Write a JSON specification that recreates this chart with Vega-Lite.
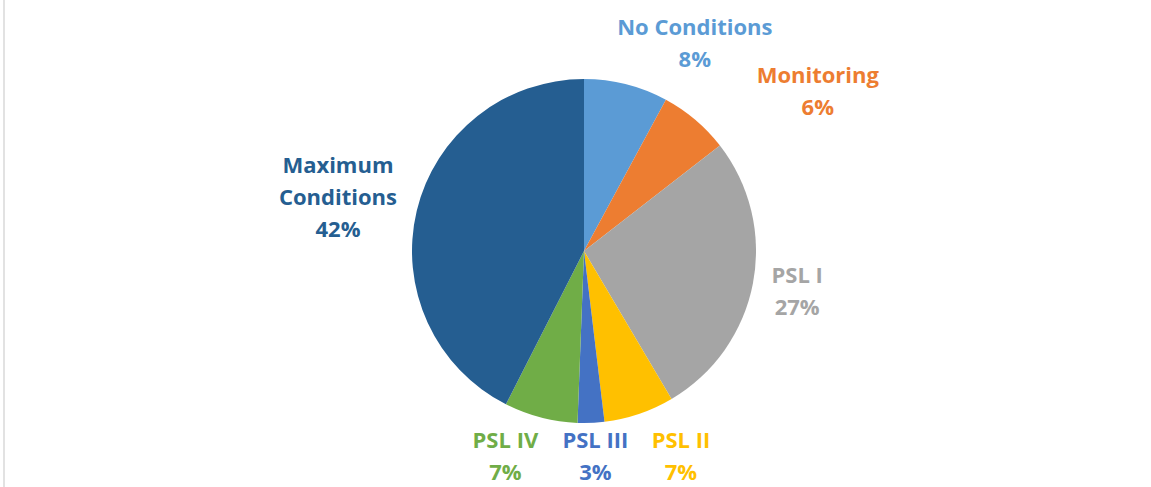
{
  "$schema": "https://vega.github.io/schema/vega-lite/v6.json",
  "width": 1160,
  "height": 506,
  "autosize": {"type": "none"},
  "padding": {"left": 4, "right": -13, "top": -2, "bottom": -17},
  "background": "white",
  "view": {"stroke": "#d9d9d9", "strokeWidth": 1.5},
  "config": {"view": {"stroke": "#d9d9d9", "strokeWidth": 1.5}},
  "data": {
    "values": [
      {"order": 1, "category": "No Conditions", "share": 7.9, "label": "No Conditions\n8%"},
      {"order": 2, "category": "Monitoring", "share": 6.6, "label": "Monitoring\n6%"},
      {"order": 3, "category": "PSL I", "share": 27.0, "label": "PSL I\n27%"},
      {"order": 4, "category": "PSL II", "share": 6.6, "label": "PSL II\n7%"},
      {"order": 5, "category": "PSL III", "share": 2.5, "label": "PSL III\n3%"},
      {"order": 6, "category": "PSL IV", "share": 6.9, "label": "PSL IV\n7%"},
      {"order": 7, "category": "Maximum Conditions", "share": 42.5, "label": "Maximum\nConditions\n42%"}
    ]
  },
  "encoding": {
    "theta": {"field": "share", "type": "quantitative", "stack": true},
    "order": {"field": "order", "type": "quantitative"},
    "color": {
      "field": "category",
      "type": "nominal",
      "scale": {
        "domain": ["No Conditions", "Monitoring", "PSL I", "PSL II", "PSL III", "PSL IV", "Maximum Conditions"],
        "range": ["#5B9BD5", "#ED7D31", "#A5A5A5", "#FFC000", "#4472C4", "#70AD47", "#255E91"]
      },
      "legend": null
    }
  },
  "layer": [
    {"mark": {"type": "arc", "radius": 172}},
    {
      "mark": {"type": "text", "radius": 215, "dx": 58, "dy": -15, "font": "Open Sans", "fontSize": 22, "fontWeight": "bold", "lineHeight": 32, "lineBreak": "\n", "align": "center", "baseline": "middle"},
      "encoding": {"text": {"condition": {"test": "datum.category === 'No Conditions'", "field": "label", "type": "nominal"}, "value": ""}}
    },
    {
      "mark": {"type": "text", "radius": 230, "dx": 85, "dy": 0, "font": "Open Sans", "fontSize": 22, "fontWeight": "bold", "lineHeight": 32, "lineBreak": "\n", "align": "center", "baseline": "middle"},
      "encoding": {"text": {"condition": {"test": "datum.category === 'Monitoring'", "field": "label", "type": "nominal"}, "value": ""}}
    },
    {
      "mark": {"type": "text", "radius": 217, "dy": -16, "font": "Open Sans", "fontSize": 22, "fontWeight": "bold", "lineHeight": 32, "lineBreak": "\n", "align": "center", "baseline": "middle"},
      "encoding": {"text": {"condition": {"test": "datum.category === 'PSL I'", "field": "label", "type": "nominal"}, "value": ""}}
    },
    {
      "mark": {"type": "text", "radius": 218, "dx": 27, "dy": -16, "font": "Open Sans", "fontSize": 22, "fontWeight": "bold", "lineHeight": 32, "lineBreak": "\n", "align": "center", "baseline": "middle"},
      "encoding": {"text": {"condition": {"test": "datum.category === 'PSL II'", "field": "label", "type": "nominal"}, "value": ""}}
    },
    {
      "mark": {"type": "text", "radius": 206, "dx": 3, "dy": -16, "font": "Open Sans", "fontSize": 22, "fontWeight": "bold", "lineHeight": 32, "lineBreak": "\n", "align": "center", "baseline": "middle"},
      "encoding": {"text": {"condition": {"test": "datum.category === 'PSL III'", "field": "label", "type": "nominal"}, "value": ""}}
    },
    {
      "mark": {"type": "text", "radius": 213, "dx": -25, "dy": -16, "font": "Open Sans", "fontSize": 22, "fontWeight": "bold", "lineHeight": 32, "lineBreak": "\n", "align": "center", "baseline": "middle"},
      "encoding": {"text": {"condition": {"test": "datum.category === 'PSL IV'", "field": "label", "type": "nominal"}, "value": ""}}
    },
    {
      "mark": {"type": "text", "radius": 252, "dx": -1, "dy": -26, "font": "Open Sans", "fontSize": 22, "fontWeight": "bold", "lineHeight": 32, "lineBreak": "\n", "align": "center", "baseline": "middle"},
      "encoding": {"text": {"condition": {"test": "datum.category === 'Maximum Conditions'", "field": "label", "type": "nominal"}, "value": ""}}
    }
  ]
}
